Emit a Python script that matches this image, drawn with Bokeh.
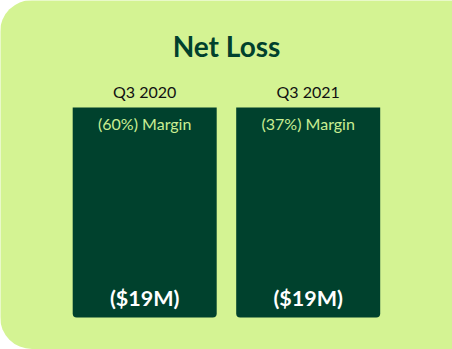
from bokeh.plotting import figure
from bokeh.models import Range1d, ColumnDataSource
from bokeh.core.properties import value
from bokeh.embed import file_html
from bokeh.resources import INLINE

# ---- data ----
chart_title = "Net Loss"
quarters = ["Q3 2020", "Q3 2021"]
net_loss = [19, 19]        # $M
margins = [60, 37]         # % (negative margin)

# ---- layout (pixels) ----
W, H = 452, 349
PX_PER_X = 163.5           # distance between bar centres
X0_PX = 144.2              # centre of first bar
BAR_TOP_PX = 107
BAR_BOT_PX = 317
BAR_W_PX = 144
R = 32                     # card corner radius

BG = "#d4f393"
DARK = "#00412d"
LIGHT_TXT = "#c9ee93"
FONT = "Lato"

ymax = max(net_loss)
py_per_unit = (BAR_BOT_PX - BAR_TOP_PX) / ymax
x_start = -X0_PX / PX_PER_X
x_end = x_start + W / PX_PER_X
y_start = -(H - BAR_BOT_PX) / py_per_unit
y_end = y_start + H / py_per_unit


def xd(px):
    return x_start + px / PX_PER_X


def yd(py):
    return y_end - py / py_per_unit


p = figure(width=W, height=H, output_backend="svg", toolbar_location=None,
           x_range=Range1d(x_start, x_end), y_range=Range1d(y_start, y_end),
           min_border=0, outline_line_color=None,
           background_fill_color=BG, border_fill_color=BG,
           styles={"border-radius": f"{R}px 0px 0px {R}px", "overflow": "hidden"})
p.axis.visible = False
p.grid.visible = False

idx = list(range(len(quarters)))
src = ColumnDataSource(dict(
    x=idx,
    top=net_loss,
    q=quarters,
    margin=[f"({m}%) Margin" for m in margins],
    val=[f"(${v}M)" for v in net_loss],
))

p.vbar(x="x", top="top", bottom=0, width=BAR_W_PX / PX_PER_X, source=src,
       fill_color=DARK, line_color=None, border_radius=(0, 0, 4, 4))

p.text(x="x", y=yd(91), text="q", source=src, text_align="center",
       text_baseline="alphabetic", text_font=value(FONT),
       text_font_size="16px", text_color="#111111")
p.text(x="x", y=yd(123), text="margin", source=src, text_align="center",
       text_baseline="alphabetic", text_font=value(FONT),
       text_font_size="16px", text_color=LIGHT_TXT)
p.text(x="x", y=yd(297), text="val", source=src, text_align="center",
       text_baseline="alphabetic", text_font=value(FONT),
       text_font_size="21.5px", text_font_style="bold", text_color="white")

p.text(x=[xd(226)], y=[yd(45)], text=[chart_title], text_align="center",
       text_baseline="alphabetic", text_font=value(FONT),
       text_font_size="28px", text_font_style="bold", text_color=DARK)

open("out.html", "w").write(file_html(p, INLINE))
